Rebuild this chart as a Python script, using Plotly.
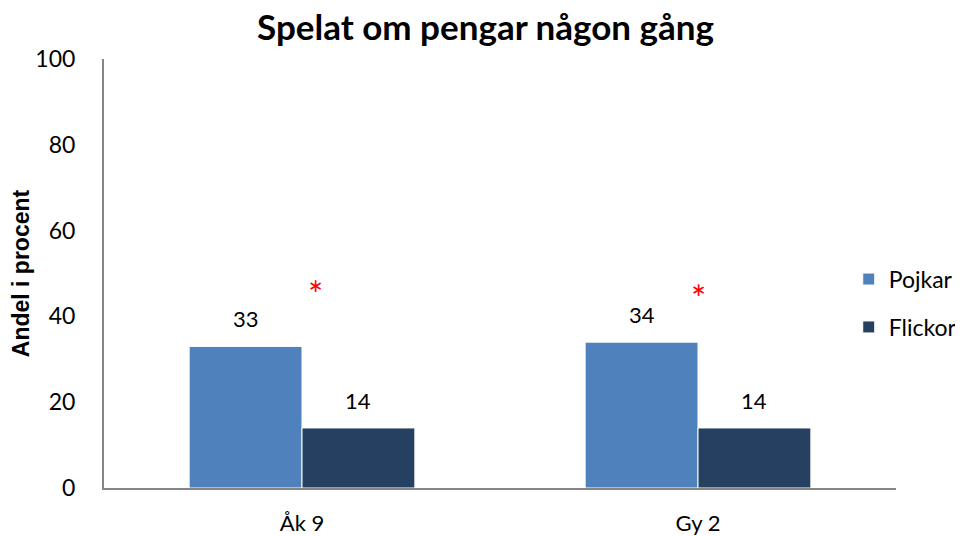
import plotly.graph_objects as go

categories = ["Åk 9", "Gy 2"]
pojkar = [33, 34]
flickor = [14, 14]
signif_y = [45.2, 44.2]  # position of red significance asterisk (percent)
y_ticks = [0, 20, 40, 60, 80, 100]

FONT = "Lato, Carlito, Calibri, sans-serif"
C_P = "#4F81BD"
C_F = "#254061"
BAR_HALF = 56  # pixel offset of each bar centre from category centre

fig = go.Figure()
fig.add_trace(go.Bar(
    x=categories, y=pojkar, name="Pojkar",
    marker=dict(color=C_P, line=dict(color="white", width=1)), legendgroup="p"))
fig.add_trace(go.Bar(
    x=categories, y=flickor, name="Flickor",
    marker=dict(color=C_F, line=dict(color="white", width=1)), legendgroup="f"))

for i, c in enumerate(categories):
    for vals, sh in ((pojkar, -BAR_HALF), (flickor, BAR_HALF)):
        fig.add_annotation(x=c, y=vals[i], xref="x", yref="y", text=str(vals[i]), showarrow=False,
                           xshift=sh, yshift=12, yanchor="bottom",
                           font=dict(size=22, color="black", family=FONT))
    fig.add_annotation(x=c, y=signif_y[i], xref="x", yref="y", text="*", showarrow=False,
                       xshift=13 if i == 0 else 0,
                       font=dict(size=36, color="red", family=FONT), yanchor="middle")

# the page body has an 8px margin, so the figure is offset by 8px; compensate
fig.update_layout(
    width=955, height=528,
    margin=dict(l=96, r=67, t=51, b=48, autoexpand=False),
    paper_bgcolor="white", plot_bgcolor="white",
    font=dict(family=FONT, color="black", size=20),
    title=dict(text="<b>Spelat om pengar någon gång</b>", x=0.5, xanchor="center",
               y=0.986, yanchor="top", font=dict(size=35, family=FONT, color="black")),
    barmode="group", bargap=0.43, bargroupgap=0,
    showlegend=True,
    legend=dict(x=1.083, y=0.431, xanchor="right", yanchor="middle",
                font=dict(size=23, family=FONT), traceorder="grouped", tracegroupgap=15,
                bgcolor="rgba(0,0,0,0)", itemwidth=30),
    xaxis=dict(showline=True, linecolor="#868686", linewidth=2, ticks="", automargin=False,
               tickfont=dict(size=22, family=FONT), showgrid=False, ticklabelstandoff=15),
    yaxis=dict(range=[0, 100], tickvals=y_ticks, showline=True, linecolor="#868686", linewidth=2,
               showgrid=False, zeroline=False, ticks="", ticklabelstandoff=22, automargin=False,
               tickfont=dict(size=23, family=FONT),
               title=dict(text="<b>Andel i procent</b>",
                          font=dict(size=23, family="Liberation Sans, Arial, sans-serif"), standoff=8)),
)

fig.write_html("out.html")
